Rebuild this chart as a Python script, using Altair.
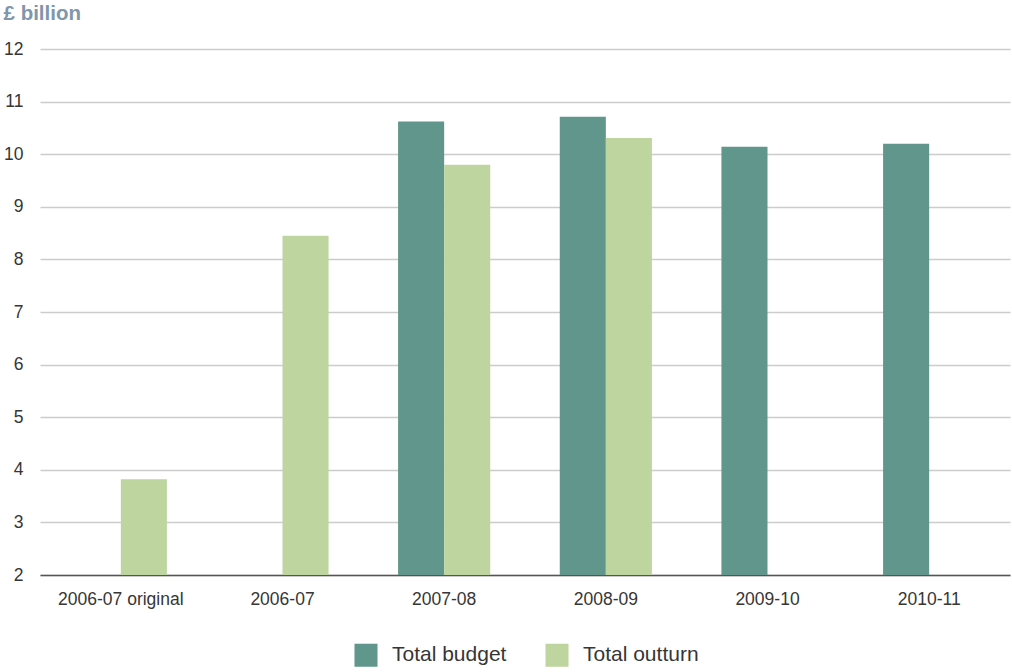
import altair as alt
import pandas as pd

# Budget and outturn, £ billion, by year
years = ["2006-07 original", "2006-07", "2007-08", "2008-09", "2009-10", "2010-11"]
total_budget = [None, None, 10.62, 10.71, 10.14, 10.2]
total_outturn = [3.82, 8.45, 9.8, 10.31, None, None]
series_names = ["Total budget", "Total outturn"]
series_colors = ["#60968b", "#bed59f"]
y_ticks = [2, 3, 4, 5, 6, 7, 8, 9, 10, 11, 12]

rows = []
for i, yr in enumerate(years):
    rows.append({"year": yr, "series": series_names[0], "value": total_budget[i]})
    rows.append({"year": yr, "series": series_names[1], "value": total_outturn[i]})
df = pd.DataFrame(rows)

font = "Liberation Sans"
text_color = "#363636"

chart = (
    alt.Chart(df)
    .mark_bar()
    .encode(
        x=alt.X(
            "year:N",
            sort=years,
            title=None,
            scale=alt.Scale(paddingInner=0.43, paddingOuter=0.215),
            axis=alt.Axis(
                labelAngle=0,
                labelFontSize=17.5,
                labelColor=text_color,
                labelFont=font,
                labelPadding=15,
                ticks=False,
                domainColor="#555555",
                domainWidth=1.5,
                grid=False,
            ),
        ),
        xOffset=alt.XOffset("series:N", sort=series_names),
        y=alt.Y(
            "value:Q",
            title=None,
            scale=alt.Scale(domain=[2, 12], zero=False, nice=False),
            axis=alt.Axis(
                values=y_ticks,
                labelFontSize=17.5,
                labelColor=text_color,
                labelFont=font,
                labelPadding=17,
                ticks=False,
                domain=False,
                gridColor="#cccccc",
                gridWidth=1.5,
            ),
        ),
        y2=alt.datum(2),
        color=alt.Color(
            "series:N",
            sort=series_names,
            scale=alt.Scale(domain=series_names, range=series_colors),
            legend=alt.Legend(
                title=None,
                orient="none",
                legendX=314,
                legendY=594,
                direction="horizontal",
                symbolType="square",
                symbolSize=530,
                symbolStrokeWidth=0,
                symbolOpacity=1,
                labelFontSize=21,
                labelFont=font,
                labelColor=text_color,
                labelOffset=14,
                columnPadding=38,
            ),
        ),
    )
    .properties(
        width=970,
        height=526,
        background="white",
        autosize=alt.AutoSizeParams(type="none"),
        padding={"left": 40, "top": 49, "right": 2, "bottom": 97},
        title=alt.TitleParams(
            "£ billion",
            anchor="start",
            frame="bounds",
            font=font,
            fontSize=20.5,
            fontWeight="bold",
            color="#7f96ab",
            offset=16,
        ),
    )
    .configure_view(stroke=None, strokeWidth=0)
)

chart.save("out.html", embed_options={"renderer": "svg", "actions": False})
